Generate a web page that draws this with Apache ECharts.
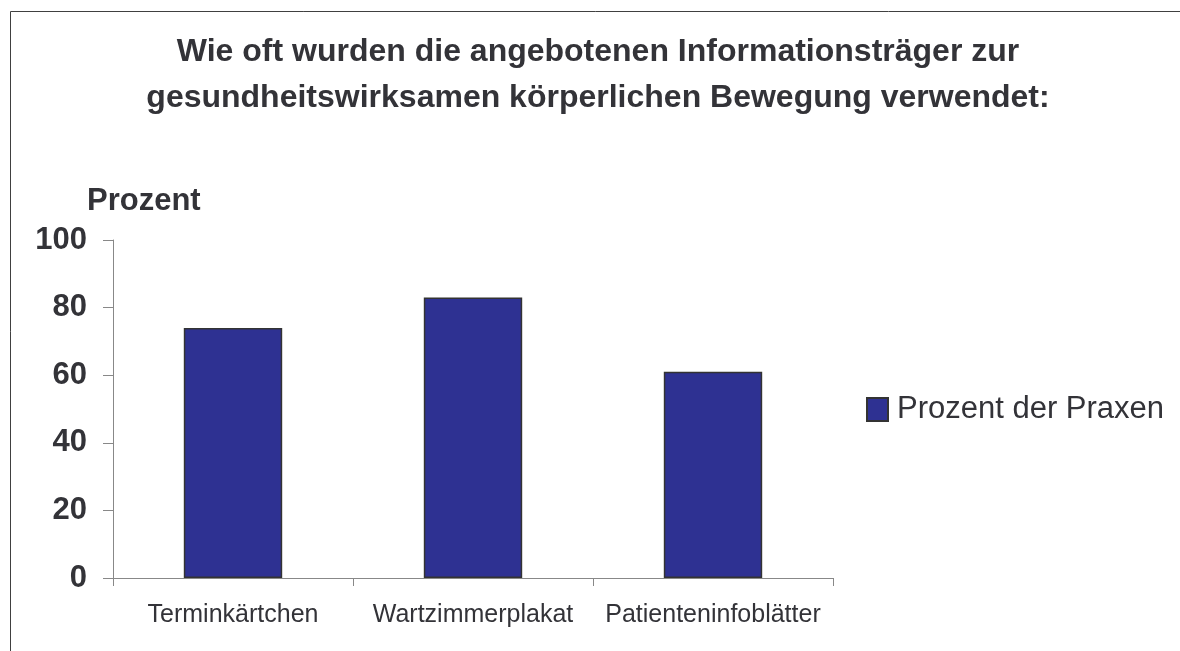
<!DOCTYPE html>
<html>
<head>
<meta charset="utf-8">
<title>Informationsträger</title>
<script src="https://cdn.jsdelivr.net/npm/echarts@6/dist/echarts.min.js"></script>
<style>
  html,body{
    margin: 0;
    padding: 0;
    background: #ffffff;
  }
  #chart{
    width: 1180px;
    height: 651px;
  }
</style>
</head>
<body>
<div id="chart"></div>
<script>
  // Daten
  let categories = ['Terminkärtchen', 'Wartzimmerplakat', 'Patienteninfoblätter']
  let praxen = [74, 83, 61]
  let seriesName = 'Prozent der Praxen'
  let titleText = 'Wie oft wurden die angebotenen Informationsträger zur\ngesundheitswirksamen körperlichen Bewegung verwendet:'
  let yName = 'Prozent'

  let myChart = echarts.init(document.getElementById('chart'))
  let font = 'Liberation Sans, Arial, sans-serif'

  let option = {
    backgroundColor: '#ffffff',
    textStyle: { fontFamily: font },
    title: [
      {
        text: titleText,
        left: 598,
        top: 29,
        padding: 0,
        textAlign: 'center',
        textStyle: {
          fontFamily: font,
          fontSize: 32,
          fontWeight: 'bold',
          color: '#333338',
          lineHeight: 46
        }
      },
      {
        text: yName,
        left: 87,
        top: 186,
        padding: 0,
        textStyle: {
          fontFamily: font,
          fontSize: 31,
          fontWeight: 'bold',
          color: '#333338',
          lineHeight: 31
        }
      }
    ],
    // Rahmen
    graphic: [
      {
        type: 'rect',
        left: 8,
        top: 9,
        shape: { width: 1300, height: 800 },
        style: { fill: 'none', stroke: '#404040', lineWidth: 1 },
        silent: true
      }
    ],
    legend: {
      data: [seriesName],
      left: 866,
      top: 394,
      padding: 0,
      icon: 'rect',
      itemWidth: 21,
      itemHeight: 23,
      textStyle: {
        fontFamily: font,
        fontSize: 31,
        color: '#333338',
        padding: [0, 0, 0, 4]
      }
    },
    grid: {
      left: 113,
      right: 347,
      top: 240,
      bottom: 73,
      containLabel: false
    },
    xAxis: {
      type: 'category',
      data: categories,
      axisLine: { lineStyle: { color: '#888888', width: 1 } },
      axisTick: { show: true, alignWithLabel: false, length: 8, lineStyle: { color: '#888888' } },
      axisLabel: {
        fontFamily: font,
        fontSize: 25,
        color: '#333338',
        margin: 25,
        interval: 0
      },
      splitLine: { show: false }
    },
    yAxis: {
      type: 'value',
      min: 0,
      max: 100,
      interval: 20,
      axisLine: { show: true, lineStyle: { color: '#888888', width: 1 } },
      axisTick: { show: true, length: 10, lineStyle: { color: '#888888' } },
      axisLabel: {
        fontFamily: font,
        fontSize: 31,
        fontWeight: 'bold',
        color: '#333338',
        margin: 26
      },
      splitLine: { show: false }
    },
    series: [
      {
        name: seriesName,
        type: 'bar',
        barWidth: '41%',
        data: praxen,
        itemStyle: {
          color: '#2E3192',
          borderColor: '#333333',
          borderWidth: 1.5
        },
        emphasis: { disabled: true }
      }
    ]
  }

  myChart.setOption(option)
</script>
</body>
</html>
